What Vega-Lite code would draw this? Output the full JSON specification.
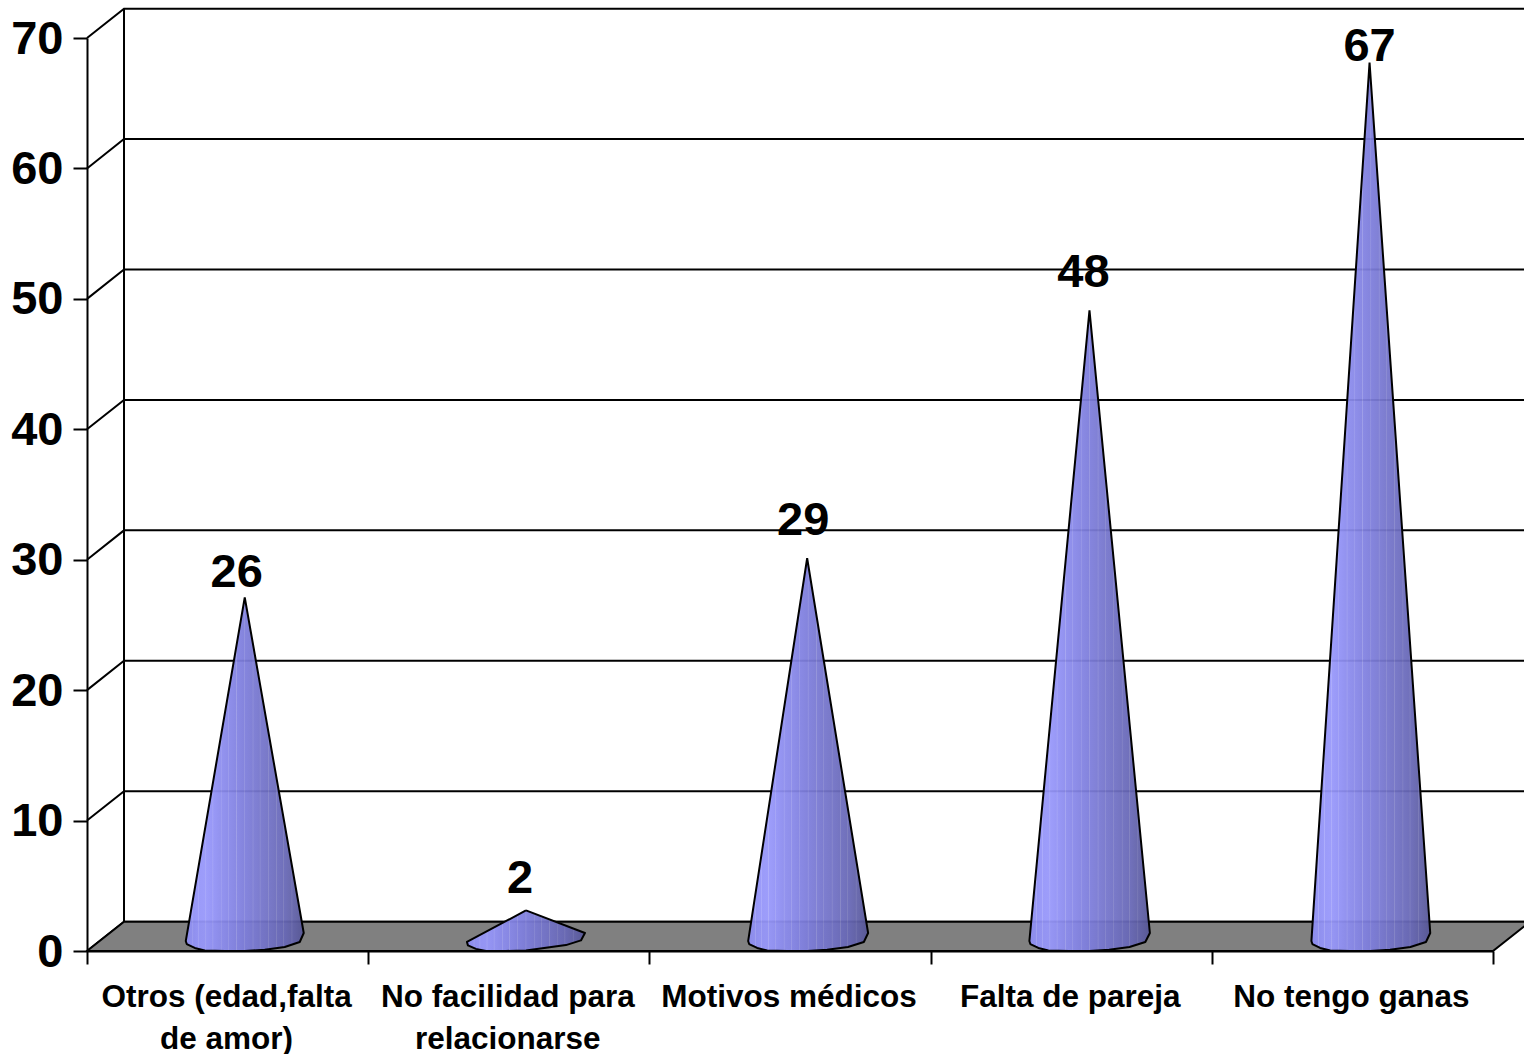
{
"$schema":"https://vega.github.io/schema/vega-lite/v6.json",
"width":1406,"height":913,
"autosize":{"type":"none"},
"padding":{"left":87,"top":38,"right":31,"bottom":103},
"background":"white",
"config":{"view":{"stroke":null}},
"datasets":{
"answers":[
{"cat":"Otros (edad,falta de amor)","value":26,"centre":0.561},
{"cat":"No facilidad para relacionarse","value":2,"centre":1.561},
{"cat":"Motivos médicos","value":29,"centre":2.561},
{"cat":"Falta de pareja","value":48,"centre":3.565},
{"cat":"No tengo ganas","value":67,"centre":4.561}
],
"wall":[
{"level":0,"x":0,"y":0},{"level":0,"x":0.1316,"y":2.25},{"level":0,"x":5.1316,"y":2.25},
{"level":10,"x":0,"y":10},{"level":10,"x":0.1316,"y":12.25},{"level":10,"x":5.1316,"y":12.25},
{"level":20,"x":0,"y":20},{"level":20,"x":0.1316,"y":22.25},{"level":20,"x":5.1316,"y":22.25},
{"level":30,"x":0,"y":30},{"level":30,"x":0.1316,"y":32.25},{"level":30,"x":5.1316,"y":32.25},
{"level":40,"x":0,"y":40},{"level":40,"x":0.1316,"y":42.25},{"level":40,"x":5.1316,"y":42.25},
{"level":50,"x":0,"y":50},{"level":50,"x":0.1316,"y":52.25},{"level":50,"x":5.1316,"y":52.25},
{"level":60,"x":0,"y":60},{"level":60,"x":0.1316,"y":62.25},{"level":60,"x":5.1316,"y":62.25},
{"level":70,"x":0,"y":70},{"level":70,"x":0.1316,"y":72.25},{"level":70,"x":5.1316,"y":72.25},
{"level":-1,"x":0.1316,"y":2.25},{"level":-1,"x":0.1316,"y":72.25}
],
"floor":[
{"x":0,"top":0,"bottom":0},
{"x":0.1316,"top":2.25,"bottom":0},
{"x":5,"top":2.25,"bottom":0},
{"x":5.1316,"top":2.25,"bottom":2.25}
],
"cones":[
{"cat":"a","i":0,"x":0.561,"v":26},{"cat":"a","i":1,"x":0.7708,"v":0.27},{"cat":"a","i":2,"x":0.7566,"v":-0.42},{"cat":"a","i":3,"x":0.7032,"v":-0.8},{"cat":"a","i":4,"x":0.6321,"v":-1.02},{"cat":"a","i":5,"x":0.561,"v":-1.11},{"cat":"a","i":6,"x":0.4899,"v":-1.11},{"cat":"a","i":7,"x":0.4188,"v":-1.07},{"cat":"a","i":8,"x":0.3832,"v":-0.88},{"cat":"a","i":9,"x":0.3547,"v":-0.58},{"cat":"a","i":10,"x":0.3512,"v":-0.35},{"cat":"a","i":11,"x":0.561,"v":26},
{"cat":"b","i":0,"x":1.561,"v":2},{"cat":"b","i":1,"x":1.7708,"v":0.27},{"cat":"b","i":2,"x":1.7566,"v":-0.3},{"cat":"b","i":3,"x":1.7032,"v":-0.66},{"cat":"b","i":4,"x":1.6321,"v":-0.86},{"cat":"b","i":5,"x":1.561,"v":-1.07},{"cat":"b","i":6,"x":1.4899,"v":-1.11},{"cat":"b","i":7,"x":1.4188,"v":-1.11},{"cat":"b","i":8,"x":1.3832,"v":-0.95},{"cat":"b","i":9,"x":1.3547,"v":-0.68},{"cat":"b","i":10,"x":1.3512,"v":-0.42},{"cat":"b","i":11,"x":1.561,"v":2},
{"cat":"c","i":0,"x":2.561,"v":29},{"cat":"c","i":1,"x":2.7778,"v":0.27},{"cat":"c","i":2,"x":2.7626,"v":-0.42},{"cat":"c","i":3,"x":2.7062,"v":-0.8},{"cat":"c","i":4,"x":2.6321,"v":-1.02},{"cat":"c","i":5,"x":2.561,"v":-1.11},{"cat":"c","i":6,"x":2.4899,"v":-1.11},{"cat":"c","i":7,"x":2.4188,"v":-1.07},{"cat":"c","i":8,"x":2.3832,"v":-0.88},{"cat":"c","i":9,"x":2.3547,"v":-0.58},{"cat":"c","i":10,"x":2.3512,"v":-0.35},{"cat":"c","i":11,"x":2.561,"v":29},
{"cat":"d","i":0,"x":3.565,"v":48},{"cat":"d","i":1,"x":3.7798,"v":0.27},{"cat":"d","i":2,"x":3.7636,"v":-0.42},{"cat":"d","i":3,"x":3.7072,"v":-0.8},{"cat":"d","i":4,"x":3.6351,"v":-1.02},{"cat":"d","i":5,"x":3.564,"v":-1.11},{"cat":"d","i":6,"x":3.4909,"v":-1.11},{"cat":"d","i":7,"x":3.4188,"v":-1.07},{"cat":"d","i":8,"x":3.3832,"v":-0.88},{"cat":"d","i":9,"x":3.3547,"v":-0.58},{"cat":"d","i":10,"x":3.3512,"v":-0.35},{"cat":"d","i":11,"x":3.565,"v":48},
{"cat":"e","i":0,"x":4.561,"v":67},{"cat":"e","i":1,"x":4.7768,"v":0.27},{"cat":"e","i":2,"x":4.7616,"v":-0.42},{"cat":"e","i":3,"x":4.7062,"v":-0.8},{"cat":"e","i":4,"x":4.6341,"v":-1.02},{"cat":"e","i":5,"x":4.563,"v":-1.11},{"cat":"e","i":6,"x":4.4909,"v":-1.11},{"cat":"e","i":7,"x":4.4208,"v":-1.07},{"cat":"e","i":8,"x":4.3852,"v":-0.88},{"cat":"e","i":9,"x":4.3577,"v":-0.58},{"cat":"e","i":10,"x":4.3542,"v":-0.35},{"cat":"e","i":11,"x":4.561,"v":67}
]
},
"resolve":{"scale":{"x":"independent","y":"independent"}},
"layer":[
{
"data":{"name":"answers"},
"mark":{"type":"bar","opacity":0},
"encoding":{
"x":{"field":"cat","type":"nominal","sort":null,
"scale":{"type":"band","paddingInner":0,"paddingOuter":0},
"axis":{"title":null,"labelAngle":0,"tickBand":"extent","tickSize":13,"tickWidth":2,"tickColor":"black","domainColor":"black","domainWidth":2,"grid":false,
"labelFont":"Liberation Sans","labelFontWeight":"bold","labelFontSize":31.5,"labelColor":"black","labelPadding":17,"labelLineHeight":42,"labelOffset":-1.5,"labelLimit":0,"labelBaseline":"top",
"labelExpr":"datum.label=='Otros (edad,falta de amor)'?['Otros (edad,falta','de amor)']:datum.label=='No facilidad para relacionarse'?['No facilidad para','relacionarse']:datum.label"}},
"y":{"field":"value","type":"quantitative",
"scale":{"domain":[0,70],"nice":false},
"axis":{"title":null,"values":[0,10,20,30,40,50,60,70],"tickSize":14,"tickWidth":2,"tickColor":"black","domainColor":"black","domainWidth":2,"grid":false,
"labelFont":"Liberation Sans","labelFontWeight":"bold","labelFontSize":47,"labelColor":"black","labelPadding":10,"labelOffset":1}}
}
},
{
"data":{"name":"wall"},
"mark":{"type":"line","color":"black","strokeWidth":2,"clip":false},
"encoding":{
"x":{"field":"x","type":"quantitative","scale":{"domain":[0,5],"nice":false,"zero":false},"axis":null},
"y":{"field":"y","type":"quantitative","scale":{"domain":[0,70],"nice":false},"axis":null},
"detail":{"field":"level"},
"order":{"field":"x"}
}
},
{
"data":{"name":"floor"},
"mark":{"type":"area","fill":"#808080","stroke":"black","strokeWidth":2,"clip":false},
"encoding":{
"x":{"field":"x","type":"quantitative","scale":{"domain":[0,5],"nice":false,"zero":false},"axis":null},
"y":{"field":"top","type":"quantitative","scale":{"domain":[0,70],"nice":false},"axis":null},
"y2":{"field":"bottom"}
}
},
{
"data":{"name":"cones"},
"mark":{"type":"line","stroke":"black","strokeWidth":2,"strokeJoin":"round","fillOpacity":0.94,
"fill":{"gradient":"linear","x1":0,"y1":0,"x2":1,"y2":0,"stops":[
{"offset":0,"color":"#8c8cf0"},
{"offset":0.054,"color":"#9191f5"},{"offset":0.06,"color":"#a6a6f8"},{"offset":0.066,"color":"#9191f5"},
{"offset":0.104,"color":"#9595f9"},{"offset":0.11,"color":"#a8a8fb"},{"offset":0.116,"color":"#9595f9"},
{"offset":0.164,"color":"#9797fa"},{"offset":0.17,"color":"#aaaafa"},{"offset":0.176,"color":"#9797fa"},
{"offset":0.224,"color":"#9292f6"},{"offset":0.23,"color":"#a6a6f6"},{"offset":0.236,"color":"#9292f6"},
{"offset":0.294,"color":"#8c8cee"},{"offset":0.3,"color":"#a0a0f0"},{"offset":0.306,"color":"#8c8cee"},
{"offset":0.354,"color":"#8888e9"},{"offset":0.36,"color":"#9d9dec"},{"offset":0.366,"color":"#8888e9"},
{"offset":0.424,"color":"#8282e2"},{"offset":0.43,"color":"#9898e6"},{"offset":0.436,"color":"#8282e2"},
{"offset":0.494,"color":"#7d7ddb"},{"offset":0.5,"color":"#9494e0"},{"offset":0.506,"color":"#7d7ddb"},
{"offset":0.564,"color":"#7979d3"},{"offset":0.57,"color":"#8f8fd8"},{"offset":0.576,"color":"#7979d3"},
{"offset":0.624,"color":"#7575cc"},{"offset":0.63,"color":"#8b8bd2"},{"offset":0.636,"color":"#7575cc"},
{"offset":0.694,"color":"#7171c5"},{"offset":0.7,"color":"#8787cb"},{"offset":0.706,"color":"#7171c5"},
{"offset":0.764,"color":"#6c6cbd"},{"offset":0.77,"color":"#8282c4"},{"offset":0.776,"color":"#6c6cbd"},
{"offset":0.824,"color":"#6868b7"},{"offset":0.83,"color":"#7e7ebe"},{"offset":0.836,"color":"#6868b7"},
{"offset":0.894,"color":"#6262aa"},{"offset":0.9,"color":"#7878b6"},{"offset":0.906,"color":"#6262aa"},
{"offset":1,"color":"#565695"}]}},
"encoding":{
"x":{"field":"x","type":"quantitative","scale":{"domain":[0,5],"nice":false,"zero":false},"axis":null},
"y":{"field":"v","type":"quantitative","scale":{"domain":[-1.112,68.888],"nice":false,"zero":false},"axis":null},
"detail":{"field":"cat"},
"order":{"field":"i"}
}
},
{
"data":{"name":"answers"},
"encoding":{
"x":{"field":"centre","type":"quantitative","scale":{"domain":[0,5],"nice":false,"zero":false},"axis":null},
"y":{"field":"value","type":"quantitative","scale":{"domain":[-1.112,68.888],"nice":false,"zero":false},"axis":null},
"text":{"field":"value","type":"quantitative"}
},
"layer":[
{"transform":[{"filter":"datum.value==26"}],"mark":{"type":"text","font":"Liberation Sans","fontWeight":"bold","fontSize":47,"color":"black","baseline":"middle","dx":-8,"dy":-24}},
{"transform":[{"filter":"datum.value==2"}],"mark":{"type":"text","font":"Liberation Sans","fontWeight":"bold","fontSize":47,"color":"black","baseline":"middle","dx":-6,"dy":-31}},
{"transform":[{"filter":"datum.value==29"}],"mark":{"type":"text","font":"Liberation Sans","fontWeight":"bold","fontSize":47,"color":"black","baseline":"middle","dx":-4,"dy":-37}},
{"transform":[{"filter":"datum.value==48"}],"mark":{"type":"text","font":"Liberation Sans","fontWeight":"bold","fontSize":47,"color":"black","baseline":"middle","dx":-6,"dy":-37}},
{"transform":[{"filter":"datum.value==67"}],"mark":{"type":"text","font":"Liberation Sans","fontWeight":"bold","fontSize":47,"color":"black","baseline":"middle","dx":0,"dy":-16}}
]
}
]
}
